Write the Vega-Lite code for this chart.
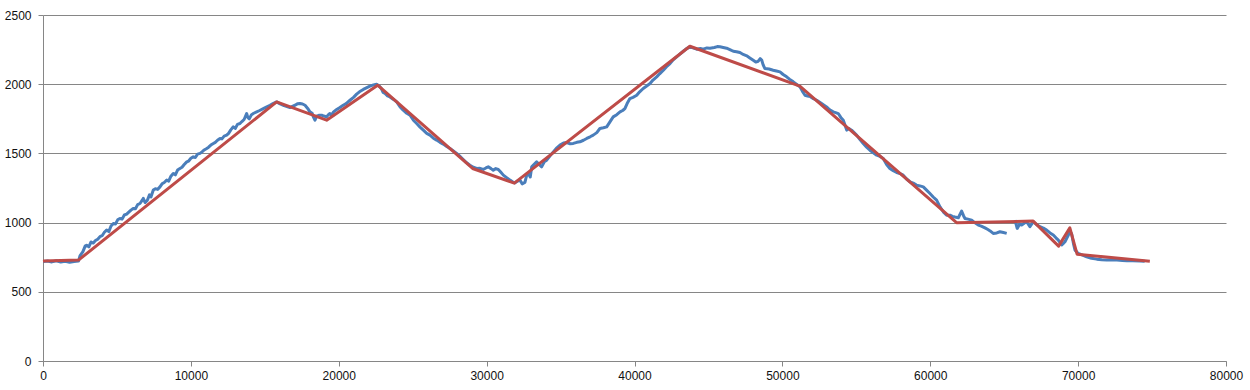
{
"$schema": "https://vega.github.io/schema/vega-lite/v6.json",
"width": 1183,
"height": 346,
"autosize": "none",
"padding": {"left": 43, "top": 15, "right": 24, "bottom": 29},
"background": "white",
"config": {
  "view": {"stroke": null},
  "axis": {"labelFont": "Liberation Sans", "labelFontSize": 12, "labelColor": "#111111", "domainColor": "#868686", "tickColor": "#868686", "gridColor": "#868686", "gridOpacity": 1, "tickSize": 5, "title": null}
},
"datasets": {
"blue": [
{"x":0,"y":718,"s":1},{"x":300,"y":722,"s":1},{"x":600,"y":716,"s":1},{"x":900,"y":724,"s":1},{"x":1200,"y":715,"s":1},{"x":1500,"y":720,"s":1},{"x":1800,"y":713,"s":1},{"x":2100,"y":719,"s":1},{"x":2400,"y":722,"s":1},{"x":2500,"y":760,"s":1},{"x":2700,"y":790,"s":1},{"x":2850,"y":830,"s":1},{"x":2950,"y":837,"s":1},{"x":3100,"y":825,"s":1},{"x":3250,"y":860,"s":1},{"x":3400,"y":852,"s":1},{"x":3550,"y":870,"s":1},{"x":3700,"y":880,"s":1},{"x":3850,"y":898,"s":1},{"x":4000,"y":905,"s":1},{"x":4150,"y":930,"s":1},{"x":4300,"y":946,"s":1},{"x":4450,"y":935,"s":1},{"x":4600,"y":975,"s":1},{"x":4760,"y":994,"s":1},{"x":4900,"y":990,"s":1},{"x":5050,"y":1020,"s":1},{"x":5200,"y":1030,"s":1},{"x":5350,"y":1025,"s":1},{"x":5500,"y":1055,"s":1},{"x":5660,"y":1061,"s":1},{"x":5800,"y":1075,"s":1},{"x":5950,"y":1090,"s":1},{"x":6100,"y":1102,"s":1},{"x":6250,"y":1100,"s":1},{"x":6400,"y":1130,"s":1},{"x":6560,"y":1138,"s":1},{"x":6700,"y":1160,"s":1},{"x":6780,"y":1175,"s":1},{"x":6900,"y":1145,"s":1},{"x":7050,"y":1160,"s":1},{"x":7200,"y":1200,"s":1},{"x":7300,"y":1185,"s":1},{"x":7460,"y":1235,"s":1},{"x":7600,"y":1245,"s":1},{"x":7750,"y":1240,"s":1},{"x":7910,"y":1258,"s":1},{"x":8050,"y":1280,"s":1},{"x":8200,"y":1290,"s":1},{"x":8365,"y":1307,"s":1},{"x":8500,"y":1300,"s":1},{"x":8650,"y":1335,"s":1},{"x":8810,"y":1355,"s":1},{"x":8950,"y":1345,"s":1},{"x":9100,"y":1380,"s":1},{"x":9260,"y":1391,"s":1},{"x":9400,"y":1400,"s":1},{"x":9550,"y":1420,"s":1},{"x":9720,"y":1439,"s":1},{"x":9850,"y":1445,"s":1},{"x":10000,"y":1465,"s":1},{"x":10160,"y":1475,"s":1},{"x":10300,"y":1470,"s":1},{"x":10450,"y":1495,"s":1},{"x":10620,"y":1500,"s":1},{"x":10750,"y":1510,"s":1},{"x":10900,"y":1525,"s":1},{"x":11070,"y":1536,"s":1},{"x":11200,"y":1545,"s":1},{"x":11350,"y":1560,"s":1},{"x":11520,"y":1572,"s":1},{"x":11650,"y":1580,"s":1},{"x":11800,"y":1595,"s":1},{"x":11970,"y":1608,"s":1},{"x":12100,"y":1605,"s":1},{"x":12250,"y":1625,"s":1},{"x":12420,"y":1632,"s":1},{"x":12550,"y":1645,"s":1},{"x":12700,"y":1670,"s":1},{"x":12870,"y":1692,"s":1},{"x":13000,"y":1680,"s":1},{"x":13150,"y":1710,"s":1},{"x":13320,"y":1716,"s":1},{"x":13450,"y":1730,"s":1},{"x":13600,"y":1745,"s":1},{"x":13700,"y":1770,"s":1},{"x":13770,"y":1788,"s":1},{"x":13850,"y":1760,"s":1},{"x":13950,"y":1750,"s":1},{"x":14100,"y":1780,"s":1},{"x":14250,"y":1790,"s":1},{"x":14450,"y":1800,"s":1},{"x":14650,"y":1810,"s":1},{"x":14900,"y":1824,"s":1},{"x":15100,"y":1835,"s":1},{"x":15350,"y":1848,"s":1},{"x":15550,"y":1860,"s":1},{"x":15800,"y":1872,"s":1},{"x":16000,"y":1860,"s":1},{"x":16300,"y":1845,"s":1},{"x":16500,"y":1838,"s":1},{"x":16700,"y":1831,"s":1},{"x":16900,"y":1842,"s":1},{"x":17040,"y":1848,"s":1},{"x":17200,"y":1858,"s":1},{"x":17380,"y":1860,"s":1},{"x":17550,"y":1857,"s":1},{"x":17720,"y":1848,"s":1},{"x":17900,"y":1825,"s":1},{"x":18050,"y":1800,"s":1},{"x":18200,"y":1790,"s":1},{"x":18300,"y":1760,"s":1},{"x":18390,"y":1740,"s":1},{"x":18500,"y":1769,"s":1},{"x":18650,"y":1775,"s":1},{"x":18850,"y":1776,"s":1},{"x":19000,"y":1770,"s":1},{"x":19180,"y":1764,"s":1},{"x":19300,"y":1780,"s":1},{"x":19400,"y":1788,"s":1},{"x":19500,"y":1775,"s":1},{"x":19650,"y":1800,"s":1},{"x":19860,"y":1817,"s":1},{"x":20050,"y":1830,"s":1},{"x":20300,"y":1848,"s":1},{"x":20500,"y":1860,"s":1},{"x":20760,"y":1884,"s":1},{"x":21000,"y":1905,"s":1},{"x":21210,"y":1928,"s":1},{"x":21400,"y":1945,"s":1},{"x":21660,"y":1962,"s":1},{"x":21900,"y":1975,"s":1},{"x":22110,"y":1986,"s":1},{"x":22350,"y":1995,"s":1},{"x":22560,"y":2000,"s":1},{"x":22750,"y":1985,"s":1},{"x":22900,"y":1965,"s":1},{"x":23000,"y":1940,"s":1},{"x":23130,"y":1933,"s":1},{"x":23300,"y":1915,"s":1},{"x":23460,"y":1908,"s":1},{"x":23700,"y":1890,"s":1},{"x":23920,"y":1872,"s":1},{"x":24150,"y":1835,"s":1},{"x":24360,"y":1812,"s":1},{"x":24600,"y":1790,"s":1},{"x":24820,"y":1776,"s":1},{"x":25050,"y":1740,"s":1},{"x":25270,"y":1716,"s":1},{"x":25500,"y":1690,"s":1},{"x":25720,"y":1668,"s":1},{"x":25950,"y":1645,"s":1},{"x":26170,"y":1632,"s":1},{"x":26400,"y":1610,"s":1},{"x":26620,"y":1596,"s":1},{"x":26850,"y":1580,"s":1},{"x":27070,"y":1567,"s":1},{"x":27300,"y":1550,"s":1},{"x":27520,"y":1536,"s":1},{"x":27750,"y":1518,"s":1},{"x":27975,"y":1500,"s":1},{"x":28200,"y":1478,"s":1},{"x":28420,"y":1456,"s":1},{"x":28650,"y":1432,"s":1},{"x":28870,"y":1415,"s":1},{"x":29100,"y":1400,"s":1},{"x":29330,"y":1391,"s":1},{"x":29550,"y":1392,"s":1},{"x":29770,"y":1384,"s":1},{"x":29950,"y":1395,"s":1},{"x":30110,"y":1403,"s":1},{"x":30300,"y":1390,"s":1},{"x":30450,"y":1379,"s":1},{"x":30620,"y":1390,"s":1},{"x":30790,"y":1384,"s":1},{"x":30950,"y":1365,"s":1},{"x":31130,"y":1343,"s":1},{"x":31350,"y":1325,"s":1},{"x":31580,"y":1307,"s":1},{"x":31750,"y":1295,"s":1},{"x":31920,"y":1287,"s":1},{"x":32100,"y":1300,"s":1},{"x":32260,"y":1307,"s":1},{"x":32400,"y":1280,"s":1},{"x":32590,"y":1290,"s":1},{"x":32710,"y":1343,"s":1},{"x":32820,"y":1355,"s":1},{"x":32950,"y":1330,"s":1},{"x":33050,"y":1403,"s":1},{"x":33200,"y":1420,"s":1},{"x":33380,"y":1439,"s":1},{"x":33550,"y":1420,"s":1},{"x":33720,"y":1403,"s":1},{"x":33900,"y":1440,"s":1},{"x":34060,"y":1451,"s":1},{"x":34300,"y":1485,"s":1},{"x":34510,"y":1511,"s":1},{"x":34750,"y":1540,"s":1},{"x":34960,"y":1560,"s":1},{"x":35200,"y":1575,"s":1},{"x":35410,"y":1579,"s":1},{"x":35650,"y":1570,"s":1},{"x":35860,"y":1572,"s":1},{"x":36100,"y":1580,"s":1},{"x":36310,"y":1584,"s":1},{"x":36550,"y":1595,"s":1},{"x":36770,"y":1608,"s":1},{"x":37000,"y":1620,"s":1},{"x":37210,"y":1632,"s":1},{"x":37450,"y":1650,"s":1},{"x":37660,"y":1680,"s":1},{"x":37900,"y":1685,"s":1},{"x":38120,"y":1692,"s":1},{"x":38350,"y":1730,"s":1},{"x":38560,"y":1764,"s":1},{"x":38800,"y":1780,"s":1},{"x":39020,"y":1800,"s":1},{"x":39200,"y":1810,"s":1},{"x":39350,"y":1824,"s":1},{"x":39500,"y":1860,"s":1},{"x":39690,"y":1896,"s":1},{"x":39900,"y":1905,"s":1},{"x":40150,"y":1920,"s":1},{"x":40350,"y":1945,"s":1},{"x":40590,"y":1969,"s":1},{"x":40800,"y":1985,"s":1},{"x":41050,"y":2005,"s":1},{"x":41250,"y":2030,"s":1},{"x":41500,"y":2053,"s":1},{"x":41700,"y":2075,"s":1},{"x":41950,"y":2101,"s":1},{"x":42150,"y":2125,"s":1},{"x":42400,"y":2149,"s":1},{"x":42600,"y":2175,"s":1},{"x":42850,"y":2197,"s":1},{"x":43050,"y":2215,"s":1},{"x":43300,"y":2238,"s":1},{"x":43500,"y":2255,"s":1},{"x":43750,"y":2270,"s":1},{"x":43950,"y":2262,"s":1},{"x":44200,"y":2253,"s":1},{"x":44450,"y":2258,"s":1},{"x":44650,"y":2253,"s":1},{"x":44900,"y":2262,"s":1},{"x":45100,"y":2260,"s":1},{"x":45400,"y":2265,"s":1},{"x":45600,"y":2272,"s":1},{"x":45780,"y":2270,"s":1},{"x":46000,"y":2265,"s":1},{"x":46230,"y":2260,"s":1},{"x":46450,"y":2250,"s":1},{"x":46680,"y":2238,"s":1},{"x":46900,"y":2235,"s":1},{"x":47130,"y":2229,"s":1},{"x":47350,"y":2215,"s":1},{"x":47590,"y":2205,"s":1},{"x":47800,"y":2190,"s":1},{"x":48030,"y":2173,"s":1},{"x":48200,"y":2160,"s":1},{"x":48370,"y":2166,"s":1},{"x":48500,"y":2185,"s":1},{"x":48600,"y":2175,"s":1},{"x":48700,"y":2140,"s":1},{"x":48820,"y":2113,"s":1},{"x":49100,"y":2110,"s":1},{"x":49380,"y":2101,"s":1},{"x":49600,"y":2095,"s":1},{"x":49840,"y":2089,"s":1},{"x":50050,"y":2070,"s":1},{"x":50290,"y":2053,"s":1},{"x":50500,"y":2035,"s":1},{"x":50740,"y":2017,"s":1},{"x":50950,"y":2000,"s":1},{"x":51190,"y":1981,"s":1},{"x":51350,"y":1950,"s":1},{"x":51530,"y":1920,"s":1},{"x":51700,"y":1915,"s":1},{"x":51900,"y":1910,"s":1},{"x":52100,"y":1895,"s":1},{"x":52320,"y":1884,"s":1},{"x":52650,"y":1860,"s":1},{"x":52990,"y":1836,"s":1},{"x":53200,"y":1815,"s":1},{"x":53440,"y":1800,"s":1},{"x":53600,"y":1795,"s":1},{"x":53780,"y":1788,"s":1},{"x":53950,"y":1760,"s":1},{"x":54120,"y":1740,"s":1},{"x":54250,"y":1700,"s":1},{"x":54350,"y":1668,"s":1},{"x":54500,"y":1680,"s":1},{"x":54680,"y":1668,"s":1},{"x":54850,"y":1650,"s":1},{"x":55020,"y":1632,"s":1},{"x":55250,"y":1600,"s":1},{"x":55470,"y":1572,"s":1},{"x":55700,"y":1545,"s":1},{"x":55920,"y":1523,"s":1},{"x":56150,"y":1505,"s":1},{"x":56380,"y":1487,"s":1},{"x":56600,"y":1478,"s":1},{"x":56820,"y":1463,"s":1},{"x":57050,"y":1420,"s":1},{"x":57270,"y":1391,"s":1},{"x":57500,"y":1375,"s":1},{"x":57730,"y":1362,"s":1},{"x":57950,"y":1355,"s":1},{"x":58170,"y":1343,"s":1},{"x":58400,"y":1315,"s":1},{"x":58630,"y":1295,"s":1},{"x":58850,"y":1285,"s":1},{"x":59070,"y":1271,"s":1},{"x":59300,"y":1265,"s":1},{"x":59530,"y":1258,"s":1},{"x":59750,"y":1235,"s":1},{"x":59980,"y":1210,"s":1},{"x":60200,"y":1185,"s":1},{"x":60430,"y":1162,"s":1},{"x":60660,"y":1114,"s":1},{"x":60880,"y":1078,"s":1},{"x":61110,"y":1054,"s":1},{"x":61330,"y":1054,"s":1},{"x":61500,"y":1045,"s":1},{"x":61670,"y":1040,"s":1},{"x":61900,"y":1035,"s":1},{"x":62120,"y":1083,"s":1},{"x":62250,"y":1050,"s":1},{"x":62350,"y":1030,"s":1},{"x":62550,"y":1025,"s":1},{"x":62800,"y":1018,"s":1},{"x":63000,"y":1000,"s":1},{"x":63250,"y":982,"s":1},{"x":63450,"y":975,"s":1},{"x":63700,"y":962,"s":1},{"x":63900,"y":950,"s":1},{"x":64050,"y":940,"s":1},{"x":64260,"y":922,"s":1},{"x":64500,"y":925,"s":1},{"x":64710,"y":934,"s":1},{"x":64950,"y":928,"s":1},{"x":65170,"y":922,"s":1},
{"x":65730,"y":1018,"s":2},{"x":65880,"y":958,"s":2},{"x":66050,"y":990,"s":2},{"x":66180,"y":982,"s":2},{"x":66350,"y":995,"s":2},{"x":66520,"y":1006,"s":2},{"x":66740,"y":970,"s":2},{"x":66970,"y":1006,"s":2},{"x":67200,"y":985,"s":2},{"x":67420,"y":970,"s":2},{"x":67650,"y":960,"s":2},{"x":67870,"y":946,"s":2},{"x":68100,"y":925,"s":2},{"x":68320,"y":910,"s":2},{"x":68500,"y":890,"s":2},{"x":68660,"y":874,"s":2},{"x":68890,"y":838,"s":2},{"x":69000,"y":850,"s":2},{"x":69110,"y":862,"s":2},{"x":69340,"y":910,"s":2},{"x":69450,"y":930,"s":2},{"x":69560,"y":920,"s":2},{"x":69700,"y":840,"s":2},{"x":69790,"y":801,"s":2},{"x":70010,"y":777,"s":2},{"x":70300,"y":765,"s":2},{"x":70580,"y":753,"s":2},{"x":70900,"y":742,"s":2},{"x":71260,"y":736,"s":2},{"x":71600,"y":732,"s":2},{"x":71940,"y":729,"s":2},{"x":72300,"y":731,"s":2},{"x":72620,"y":729,"s":2},{"x":73000,"y":726,"s":2},{"x":73300,"y":724,"s":2},{"x":73700,"y":725,"s":2},{"x":74180,"y":722,"s":2},{"x":74500,"y":721,"s":2}
],
"red": [
{"x":0,"y":722},{"x":2400,"y":729},{"x":15800,"y":1872},{"x":19180,"y":1740},{"x":22630,"y":1993},{"x":29050,"y":1391},{"x":31870,"y":1285},{"x":43745,"y":2274},{"x":51180,"y":1986},{"x":61780,"y":999},{"x":66960,"y":1011},{"x":68680,"y":830},{"x":69440,"y":962},{"x":69930,"y":772},{"x":74850,"y":720}
]
},
"layer": [
  {
    "data": {"name": "blue"},
    "mark": {"type": "line", "color": "#4A7EBB", "strokeWidth": 3, "strokeJoin": "round"},
    "encoding": {
      "x": {"field": "x", "type": "quantitative", "scale": {"domain": [0, 80000], "nice": false, "zero": true},
            "axis": {"values": [0,10000,20000,30000,40000,50000,60000,70000,80000], "format": "d", "grid": false, "labelPadding": 4, "labelFlush": false}},
      "y": {"field": "y", "type": "quantitative", "scale": {"domain": [0, 2500], "nice": false},
            "axis": {"values": [0,500,1000,1500,2000,2500], "format": "d", "grid": true, "labelPadding": 7}},
      "detail": {"field": "s", "type": "nominal"}
    }
  },
  {
    "data": {"name": "red"},
    "mark": {"type": "line", "color": "#BE4B48", "strokeWidth": 3, "strokeJoin": "round"},
    "encoding": {
      "x": {"field": "x", "type": "quantitative"},
      "y": {"field": "y", "type": "quantitative"}
    }
  }
]
}
